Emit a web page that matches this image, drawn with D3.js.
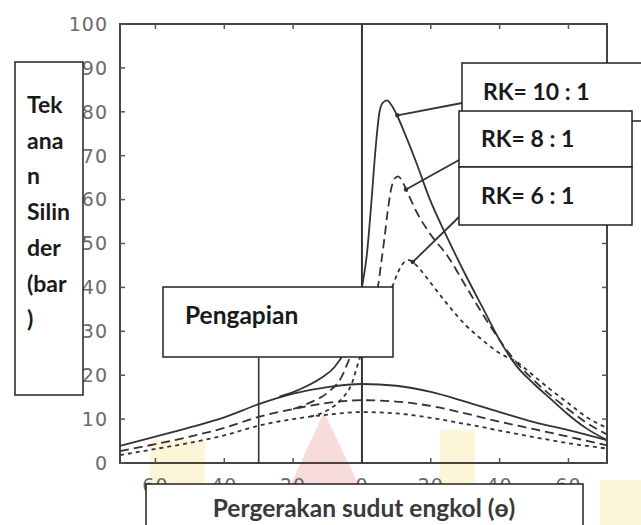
<!DOCTYPE html>
<html><head><meta charset="utf-8">
<script src="https://cdn.jsdelivr.net/npm/d3@7"></script>
<style>body{margin:0;background:#fff} svg{display:block}</style>
</head><body><svg id="c" width="641" height="525"></svg>
<script>
// ---------- data ----------
const yTicks = [0,10,20,30,40,50,60,70,80,90,100];
const yTickLabels = ["0","10","20","30","40","50","60","70","80","90","100"];
const xTicks = [-60,-40,-20,0,20,40,60];
const xTickLabels = ["60","40","20","0","20","40","60"];
const ignitionAngle = -30;
const tdcAngle = 0;

// motoring (no combustion) curves: [crank angle, pressure bar]
const motor10 = [[-70.3,3.9],[-60,6],[-50,8.1],[-40,10.4],[-30,13.4],[-20,15.8],[-10,17.3],[0,18],[10,17.6],[20,16.2],[30,14],[40,11.6],[50,9.3],[60,7.5],[71.2,5.2]];
const motor8  = [[-70.3,2.7],[-60,4.3],[-50,6],[-40,8],[-30,10.5],[-20,12.3],[-10,13.7],[0,14.3],[10,14],[20,13],[30,11.3],[40,9.4],[50,7.7],[60,6],[71.2,4]];
const motor6  = [[-70.3,1.8],[-60,3.2],[-50,4.6],[-40,6.3],[-30,8.5],[-20,10],[-10,11],[0,11.6],[10,11.3],[20,10.3],[30,8.9],[40,7.4],[50,5.9],[60,4.5],[71.2,3.3]];

// firing curves
const fire10 = [[-24,15.1],[-18,16.8],[-12,19.3],[-8,21.8],[-5,25.5],[-2,32],[0,40],[1.5,48],[2.6,58],[4,72],[5,79.5],[6,82],[7.3,82.6],[8.5,81.6],[10,79.5],[13,74],[16,68],[19.5,60.5],[25,51],[30,43],[35,35.5],[40,28],[45,22],[50,18],[55,14.5],[60,11],[65,8],[71.2,5.2]];
const fire8  = [[-20,12.3],[-15,13.8],[-10,16],[-6,19.5],[-3.5,24],[0,30],[2.5,35],[4.6,40],[5.5,45],[6.5,51],[7.5,57.5],[8.5,62.5],[9.5,64.8],[10.5,65.3],[11.5,64.5],[13,62],[16,57],[20,52],[25,47],[30,40.5],[35,34],[40,28],[45,22.8],[50,18.8],[55,15.3],[60,12.2],[65,9.3],[71.2,6.5]];
const fire6  = [[-15,10.6],[-10,12],[-6,14.5],[-3,18],[-0.6,24],[3,30],[6,35],[9,40.5],[10.5,43.5],[12,45.5],[13.5,46.2],[15,45.6],[17,44],[20,41],[25,36],[30,31.5],[35,28],[40,25],[45,23],[50,19.8],[55,16.6],[60,13.6],[65,10.6],[71.2,8]];

const ratioLabels = ["RK= 10 : 1","RK= 8 : 1","RK= 6 : 1"];
const leaderAnchors = [[10.3,79.2],[12.8,62.3],[14.8,45.8]]; // points on curves where leaders start
const yLabelLines = ["Tek","ana","n","Silin","der","(bar",")"];
const xTitle = "Pergerakan sudut engkol (ө)";
const ignitionLabel = "Pengapian";

// ---------- layout ----------
const svg = d3.select("#c");
const x = d3.scaleLinear().domain([-70.3, 71.2]).range([120, 607]);
const y = d3.scaleLinear().domain([0, 100]).range([463, 24]);
const ink = "#333";
const FONT = "Lato, 'Open Sans', sans-serif";

// faint watermark shapes (background)
const wm = svg.append("g").attr("opacity",0.4);
wm.append("path").attr("d","M150,440 L205,440 L205,525 L150,525 Z").attr("fill","#fbe7a0");
wm.append("path").attr("d","M440,430 L475,430 L475,525 L440,525 Z").attr("fill","#fbe7a0");
wm.append("path").attr("d","M600,480 L641,480 L641,525 L600,525 Z").attr("fill","#fbe7a0");
wm.append("path").attr("d","M324,412 L378,525 L272,525 Z").attr("fill","#f0a8a8");

// frame
const g = svg.append("g");
g.append("rect").attr("x",x.range()[0]).attr("y",y.range()[1]).attr("width",x.range()[1]-x.range()[0]).attr("height",y.range()[0]-y.range()[1])
  .attr("fill","none").attr("stroke","#444").attr("stroke-width",2);

// ticks (all inward)
const tk = 5;
yTicks.forEach(v=>{
  g.append("line").attr("x1",x.range()[0]).attr("x2",x.range()[0]+tk).attr("y1",y(v)).attr("y2",y(v)).attr("stroke","#555").attr("stroke-width",1.5);
  g.append("line").attr("x1",x.range()[1]).attr("x2",x.range()[1]-tk).attr("y1",y(v)).attr("y2",y(v)).attr("stroke","#555").attr("stroke-width",1.5);
});
xTicks.forEach(v=>{
  g.append("line").attr("x1",x(v)).attr("x2",x(v)).attr("y1",y(0)).attr("y2",y(0)-tk).attr("stroke","#555").attr("stroke-width",1.5);
  g.append("line").attr("x1",x(v)).attr("x2",x(v)).attr("y1",y(100)).attr("y2",y(100)+tk).attr("stroke","#555").attr("stroke-width",1.5);
});

// tick labels
g.selectAll(".yl").data(yTicks).enter().append("text")
  .attr("x",108).attr("y",d=>y(d)).attr("dy","0.36em").attr("text-anchor","end")
  .attr("font-family","'DejaVu Sans', sans-serif").attr("font-size",19).attr("letter-spacing",1)
  .attr("fill","#6a6a6a").text((d,i)=>yTickLabels[i]);
g.selectAll(".xl").data(xTicks).enter().append("text")
  .attr("x",d=>x(d)).attr("y",y(0)+29).attr("text-anchor","middle")
  .attr("font-family","'DejaVu Sans', sans-serif").attr("font-size",19).attr("letter-spacing",1)
  .attr("fill","#6a6a6a").text((d,i)=>xTickLabels[i]);

// TDC line and ignition line
g.append("line").attr("x1",x(tdcAngle)).attr("x2",x(tdcAngle)).attr("y1",y(0)).attr("y2",y(100)).attr("stroke",ink).attr("stroke-width",2);
g.append("line").attr("x1",x(ignitionAngle)).attr("x2",x(ignitionAngle)).attr("y1",y(0)).attr("y2",y(24)).attr("stroke",ink).attr("stroke-width",1.6);

// curves
const line = d3.line().x(d=>x(d[0])).y(d=>y(d[1])).curve(d3.curveMonotoneX);
const series = [
  {d:motor10, dash:null},{d:motor8, dash:"9,5"},{d:motor6, dash:"4,4"},
  {d:fire10, dash:null},{d:fire8, dash:"9,5"},{d:fire6, dash:"4,4"}
];
series.forEach(s=>{
  g.append("path").attr("d",line(s.d)).attr("fill","none").attr("stroke",ink)
   .attr("stroke-width",1.8).attr("stroke-dasharray",s.dash);
});

// boxes
function box(x0,y0,w,h){
  return svg.append("rect").attr("x",x0).attr("y",y0).attr("width",w).attr("height",h)
    .attr("fill","#fff").attr("stroke","#222").attr("stroke-width",1.5);
}
function label(t,xx,yy,size,anchor,fill){
  return svg.append("text").attr("x",xx).attr("y",yy).attr("text-anchor",anchor||"start")
    .attr("font-family",FONT).attr("font-weight","bold").attr("font-size",size).attr("fill",fill||"#1a1a1a").text(t);
}

// leader lines
const boxLeft = [[462,103],[459,160],[459,217]];
leaderAnchors.forEach((a,i)=>{
  svg.append("line").attr("x1",x(a[0])).attr("y1",y(a[1])).attr("x2",boxLeft[i][0]).attr("y2",boxLeft[i][1])
    .attr("stroke",ink).attr("stroke-width",1.8);
  svg.append("circle").attr("cx",x(a[0])).attr("cy",y(a[1])).attr("r",2.2).attr("fill",ink);
});

// y label box
box(15,62,68,333);
yLabelLines.forEach((t,i)=>label(t,27,113+i*35.7,23));

// ignition box
box(163,287,230,70);
label(ignitionLabel,185,324,24.5);

// RK boxes
box(462,63,190,58);
box(459,111,173,56);
box(459,167,173,58);
label(ratioLabels[0],483,100,23);
label(ratioLabels[1],481,147,23);
label(ratioLabels[2],481,204,23);

// x title box
box(146,484,437,60);
label(xTitle,364,517,24.5,"middle","#3a3a3a");
</script></body></html>
